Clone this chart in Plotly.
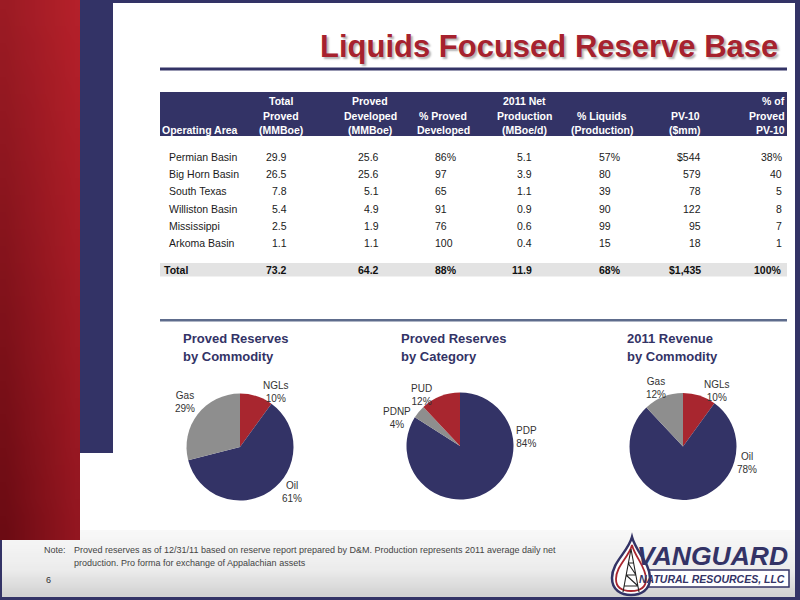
import base64
import struct
import zlib
import plotly.graph_objects as go

# ---------------- data ----------------
areas = ["Permian Basin", "Big Horn Basin", "South Texas", "Williston Basin", "Mississippi", "Arkoma Basin"]
total_proved = [29.9, 26.5, 7.8, 5.4, 2.5, 1.1]
proved_developed = [25.6, 25.6, 5.1, 4.9, 1.9, 1.1]
pct_proved_developed = [86, 97, 65, 91, 76, 100]
net_production = [5.1, 3.9, 1.1, 0.9, 0.6, 0.4]
pct_liquids = [57, 80, 39, 90, 99, 15]
pv10 = [544, 579, 78, 122, 95, 18]
pct_pv10 = [38, 40, 5, 8, 7, 1]
totals = [73.2, 64.2, 88, 11.9, 68, 1435, 100]

headers = ["Operating Area", "Total<br>Proved<br>(MMBoe)", "Proved<br>Developed<br>(MMBoe)",
           "% Proved<br>Developed", "2011 Net<br>Production<br>(MBoe/d)", "% Liquids<br>(Production)",
           "PV-10<br>($mm)", "% of<br>Proved<br>PV-10"]

pie_titles = ["Proved Reserves<br>by Commodity", "Proved Reserves<br>by Category", "2011 Revenue<br>by Commodity"]
pie1_labels = ["NGLs", "Oil", "Gas"]
pie1_values = [10, 61, 29]
pie2_labels = ["PDP", "PDNP", "PUD"]
pie2_values = [84, 4, 12]
pie3_labels = ["NGLs", "Oil", "Gas"]
pie3_values = [10, 78, 12]

title = "Liquids Focused Reserve Base"
note_label = "Note:"
note_lines = ["Proved reserves as of 12/31/11 based on reserve report prepared by D&M. Production represents 2011 average daily net",
              "production. Pro forma for exchange of Appalachian assets"]
page_number = "6"

# ---------------- style ----------------
W, H = 800, 600
NAVY = "#333366"
RED = "#A8262F"
GRAY = "#8E8E8E"
FONT = "Liberation Sans, Arial, sans-serif"
slice_colors = {"NGLs": RED, "Oil": NAVY, "Gas": GRAY, "PDP": NAVY, "PDNP": GRAY, "PUD": RED}


def px(x):
    return x / W


def py(y):
    return 1 - y / H


def rect(x0, y0, x1, y1, color, layer="below", line=None):
    return dict(type="rect", xref="paper", yref="paper", x0=px(x0), x1=px(x1), y0=py(y1), y1=py(y0),
                fillcolor=color, line=line or dict(width=0), layer=layer)


def path(d, color, width, fill=None):
    parts = []
    for tok in d:
        if isinstance(tok, str):
            parts.append(tok)
        else:
            parts.append(f"{px(tok[0]):.5f},{py(tok[1]):.5f}")
    return dict(type="path", xref="paper", yref="paper", path=" ".join(parts),
                line=dict(color=color, width=width), fillcolor=fill or "rgba(0,0,0,0)", layer="above")


def ann(x, y, text, size, color, anchor="left", bold=False, italic=False, yanchor="middle", shadow=None):
    f = dict(family=FONT, size=size, color=color, weight="bold" if bold else "normal",
             style="italic" if italic else "normal")
    if shadow:
        f["shadow"] = shadow
    return dict(xref="paper", yref="paper", x=px(x), y=py(y), xanchor=anchor, yanchor=yanchor,
                text=text, showarrow=False, font=f, borderpad=0)


def png_uri(w, h, fn):
    raw = b""
    for yy in range(h):
        raw += b"\x00" + b"".join(bytes(fn(xx, yy)) for xx in range(w))

    def chunk(t, dta):
        return struct.pack(">I", len(dta)) + t + dta + struct.pack(">I", zlib.crc32(t + dta) & 0xffffffff)

    png = (b"\x89PNG\r\n\x1a\n" + chunk(b"IHDR", struct.pack(">IIBBBBB", w, h, 8, 2, 0, 0, 0))
           + chunk(b"IDAT", zlib.compress(raw)) + chunk(b"IEND", b""))
    return "data:image/png;base64," + base64.b64encode(png).decode()


def lerp(a, b, t):
    return tuple(int(round(a[i] + (b[i] - a[i]) * t)) for i in range(3))


tl, tr, bl, br = (0x9C, 0x1B, 0x24), (0xB4, 0x20, 0x2A), (0x6C, 0x0B, 0x13), (0x92, 0x16, 0x20)


def red_fn(x, y):
    tx, ty = x / 7, y / 31
    return lerp(lerp(tl, tr, tx), lerp(bl, br, tx), ty)


def footer_fn(x, y):
    t = y / 15
    if t < 0.6:
        return lerp((0xF8, 0xF8, 0xF8), (0xEC, 0xEC, 0xEC), t / 0.6)
    return lerp((0xEC, 0xEC, 0xEC), (0xD2, 0xD2, 0xD2), (t - 0.6) / 0.4)


red_img = png_uri(8, 32, red_fn)
footer_img = png_uri(1, 16, footer_fn)

fig = go.Figure()

# ---------------- pies ----------------
pie_centers = [(240, 447, 53.5), (460, 446, 53.5), (683, 446.5, 53.5)]
pie_sets = [(pie1_labels, pie1_values), (pie2_labels, pie2_values), (pie3_labels, pie3_values)]
for (labels, values), (cx, cy, r) in zip(pie_sets, pie_centers):
    fig.add_trace(go.Pie(
        labels=labels, values=values, sort=False, direction="clockwise", rotation=0,
        textinfo="none", showlegend=False, hole=0,
        marker=dict(colors=[slice_colors[l] for l in labels], line=dict(width=0)),
        domain=dict(x=[px(cx - r), px(cx + r)], y=[py(cy + r), py(cy - r)]),
    ))

# ---------------- background shapes ----------------
shapes = [
    rect(80, 0, 113, 453, NAVY),
    rect(80, 0, 800, 3, NAVY),
    rect(795, 0, 800, 600, NAVY),
    rect(0, 597, 800, 600, NAVY),
    rect(0, 540, 2, 600, NAVY),
    rect(160, 67.5, 787, 70.5, NAVY),          # title underline
    rect(160, 92, 787, 136, NAVY),              # table header band
    rect(160, 263, 787, 276.5, "#E3E3E3"),      # total row band
    rect(160, 319, 787, 321.5, "#5E6C8C"),      # separator
    rect(634, 570, 789, 587, "white", layer="above", line=dict(color=NAVY, width=1.5)),
]

# logo drop
shapes.append(path(["M", (632, 537), "C", (628, 552), (612, 562), (612, 578), "C", (612, 590), (621, 595), (631, 595),
                    "C", (641, 595), (650, 590), (650, 578), "C", (650, 563), (636, 552), (632, 537), "Z"],
                   NAVY, 2.5, "white"))
shapes.append(path(["M", (632, 545), "C", (629, 557), (616, 566), (616, 579), "C", (616, 588), (623, 591), (631, 591),
                    "C", (639, 591), (646, 588), (646, 579), "C", (646, 567), (635, 557), (632, 545), "Z"],
                   RED, 1.8))
shapes.append(path(["M", (631, 549), "L", (623, 592), "M", (631, 549), "L", (639, 592),
                    "M", (628, 563), "L", (634, 563), "M", (626, 575), "L", (636, 575),
                    "M", (624, 586), "L", (638, 586), "M", (628, 563), "L", (636, 575), "M", (626, 575), "L", (638, 586)],
                   "#222222", 1.1))

images = [
    dict(source=footer_img, xref="paper", yref="paper", x=0, y=py(530), sizex=1, sizey=67 / H,
         xanchor="left", yanchor="top", sizing="stretch", layer="below"),
    dict(source=red_img, xref="paper", yref="paper", x=0, y=1, sizex=80 / W, sizey=540 / H,
         xanchor="left", yanchor="top", sizing="stretch", layer="below"),
]

# ---------------- annotations ----------------
annotations = []
annotations.append(ann(779, 46, title, 31, "#A6222E", anchor="right", bold=True,
                       shadow="2px 2px 2px rgba(0,0,0,0.30)"))

# table header
hdr_x = [161, 281, 370, 443, 524, 602, 685, 786]
hdr_anchor = ["left", "center", "center", "center", "center", "center", "center", "right"]
line_y = [130, 115.5, 101]
for h, x, a in zip(headers, hdr_x, hdr_anchor):
    for j, line in enumerate(reversed(h.split("<br>"))):
        annotations.append(ann(x, line_y[j], line, 10.5, "white", anchor=a, bold=True))

# table body
cell_x = [168, 288, 380, 434, 533, 598, 702, 783]
cell_anchor = ["left", "right", "right", "left", "right", "left", "right", "right"]
row_y = [157, 174.3, 191.5, 208.7, 226, 243.2]
for i in range(len(areas)):
    pct = "%" if i == 0 else ""
    dol = "$" if i == 0 else ""
    vals = [areas[i], f"{total_proved[i]:.1f}", f"{proved_developed[i]:.1f}", f"{pct_proved_developed[i]}{pct}",
            f"{net_production[i]:.1f}", f"{pct_liquids[i]}{pct}", f"{dol}{pv10[i]}", f"{pct_pv10[i]}{pct}"]
    for v, x, a in zip(vals, cell_x, cell_anchor):
        annotations.append(ann(x, row_y[i], v, 10.5, "#1A1A1A", anchor=a))

tot_vals = ["Total", f"{totals[0]:.1f}", f"{totals[1]:.1f}", f"{totals[2]}%", f"{totals[3]:.1f}",
            f"{totals[4]}%", f"${totals[5]:,}", f"{totals[6]}%"]
tot_x = [163] + cell_x[1:]
for v, x, a in zip(tot_vals, tot_x, cell_anchor):
    annotations.append(ann(x, 269.5, v, 10.5, "#111111", anchor=a, bold=True))

# pie titles
for t, x in zip(pie_titles, [182, 400, 626]):
    l1, l2 = t.split("<br>")
    annotations.append(ann(x, 339, l1, 13, NAVY, bold=True))
    annotations.append(ann(x, 356.5, l2, 13, NAVY, bold=True))

# pie labels
label_pos = [
    {"NGLs": (276, 391.5), "Oil": (292, 492), "Gas": (185, 402)},
    {"PDP": (526, 437), "PDNP": (397, 418), "PUD": (421, 395)},
    {"NGLs": (717, 391), "Oil": (747, 462.5), "Gas": (656, 387.5)},
]
for (labels, values), pos in zip(pie_sets, label_pos):
    for l, v in zip(labels, values):
        x, y = pos[l]
        annotations.append(ann(x, y, f"{l}<br>{v}%", 10, "#333333", anchor="center"))

# footer text
annotations.append(ann(43, 550, note_label, 9, "#444444"))
annotations.append(ann(73, 550, note_lines[0], 9, "#444444"))
annotations.append(ann(73, 563, note_lines[1], 9, "#444444"))
annotations.append(ann(45, 580, page_number, 9, "#333333"))

# logo text
annotations.append(ann(712, 556, "VANGUARD", 26.5, NAVY, anchor="center", bold=True, italic=True))
annotations.append(ann(712, 578.5, "NATURAL RESOURCES, LLC", 10.5, NAVY, anchor="center", bold=True, italic=True))

fig.update_layout(
    width=W, height=H, autosize=False,
    margin=dict(l=0, r=0, t=0, b=0),
    paper_bgcolor="white", plot_bgcolor="white",
    font=dict(family=FONT),
    shapes=shapes, images=images, annotations=annotations,
)

fig.write_html("out.html", config={"displayModeBar": False},
               post_script="document.body.style.margin='0';document.body.style.overflow='hidden';")
